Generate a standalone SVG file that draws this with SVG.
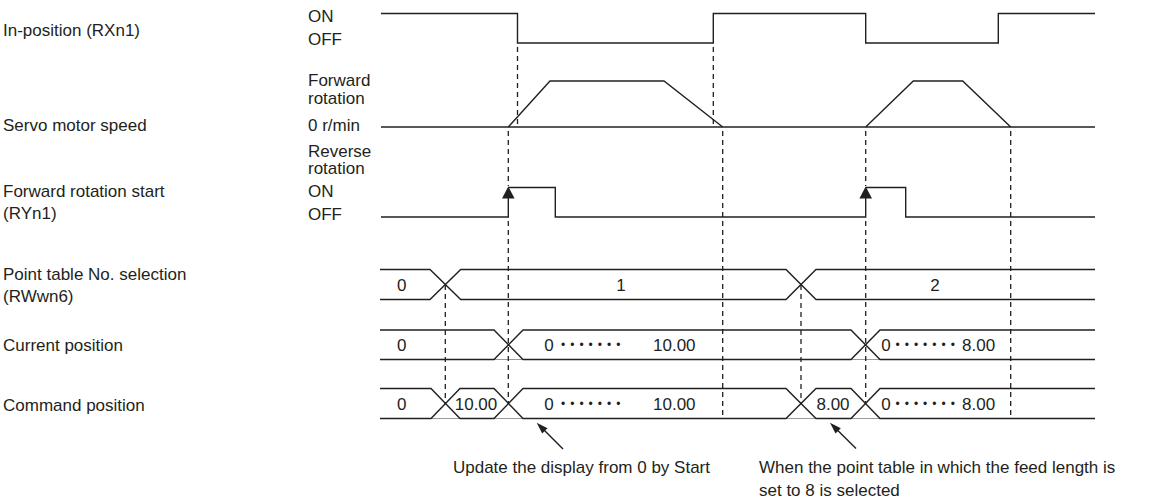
<svg xmlns="http://www.w3.org/2000/svg" width="1153" height="501" viewBox="0 0 1153 501">
<style>
text{font-family:"Liberation Sans",Arial,sans-serif;font-size:17px;fill:#231f20}
.c{text-anchor:middle}
.e{text-anchor:end}
.dots{font-size:12px;letter-spacing:5px}
.sig{fill:none;stroke:#231f20;stroke-width:1.4}
.faint{fill:none;stroke:#9a9a9a;stroke-width:1.2}
.dash{fill:none;stroke:#231f20;stroke-width:1.3;stroke-dasharray:5 4}
.ah{fill:#231f20}
</style>
<rect width="1153" height="501" fill="#fff"/>
<g id="labels">
<text x="3" y="36">In-position (RXn1)</text>
<text x="3" y="131">Servo motor speed</text>
<text x="3" y="197">Forward rotation start</text>
<text x="3" y="219">(RYn1)</text>
<text x="3" y="280">Point table No. selection</text>
<text x="3" y="302">(RWwn6)</text>
<text x="3" y="351">Current position</text>
<text x="3" y="411">Command position</text>
<text x="308" y="22">ON</text>
<text x="308" y="45">OFF</text>
<text x="308" y="86">Forward</text>
<text x="308" y="104">rotation</text>
<text x="308" y="131">0 r/min</text>
<text x="308" y="157">Reverse</text>
<text x="308" y="174">rotation</text>
<text x="308" y="197">ON</text>
<text x="308" y="220">OFF</text>
</g>
<g id="in-position">
<path class="sig" d="M381,13.5 H517.5 V43 H713.3 V13.5 H865.7 V43 H998.3 V13.5 H1095"/>
</g>
<g id="servo-speed">
<path class="sig" d="M381,127 H1095"/>
<path class="sig" d="M508.3,127 L550,81 H664 L722.7,127"/>
<path class="sig" d="M865.7,127 L913.3,81 H962.7 L1010.7,127"/>
</g>
<g id="start-signal">
<path class="sig" d="M381,217 H508.3 V192 M508.3,187.5 H555.3 V217 H865.7 V192 M865.7,187.5 H905.7 V217 H1095"/>
<path class="ah" d="M508.3,186.5 L502,198.5 H514.6 Z"/>
<path class="ah" d="M865.7,186.5 L859.4,198.5 H872 Z"/>
</g>
<g id="point-table">
<path class="sig" d="M380,269.5 H430 L460.7,299.5 H786 L816,269.5 H1095"/>
<path class="sig" d="M380,299.5 H430 L460.7,269.5 H786 L816,299.5 H1095"/>
<text class="c" x="401.7" y="290.5">0</text>
<text class="c" x="621" y="290.5">1</text>
<text class="c" x="935" y="290.5">2</text>
</g>
<g id="current-position">
<path class="faint" d="M494,359.5 H523 M851,359.5 H880"/>
<path class="sig" d="M380,330 H494 L523,359.5 H851 L880,330 H1095"/>
<path class="sig" d="M380,359.5 H494 L523,330 H851 L880,359.5 H1095"/>
<text class="c" x="401.7" y="351">0</text>
<text class="c" x="549" y="351">0</text>
<text class="dots" x="561" y="348.5">•••••••</text>
<text x="653" y="351">10.00</text>
<text class="c" x="886" y="351">0</text>
<text class="dots" x="895.5" y="348.5">•••••••</text>
<text x="962" y="351">8.00</text>
</g>
<g id="command-position">
<path class="faint" d="M431,418.5 H460 M494,418.5 H523 M786,418.5 H816 M851,418.5 H880"/>
<path class="sig" d="M380,388.5 H431 L460,418.5 H494 L523,388.5 H786 L816,418.5 H851 L880,388.5 H1095"/>
<path class="sig" d="M380,418.5 H431 L460,388.5 H494 L523,418.5 H786 L816,388.5 H851 L880,418.5 H1095"/>
<text class="c" x="401.7" y="410">0</text>
<text class="c" x="476" y="410">10.00</text>
<text class="c" x="549" y="410">0</text>
<text class="dots" x="561" y="407.5">•••••••</text>
<text x="653" y="410">10.00</text>
<text class="c" x="833" y="410">8.00</text>
<text class="c" x="886" y="410">0</text>
<text class="dots" x="895.5" y="407.5">•••••••</text>
<text x="962" y="410">8.00</text>
</g>
<g id="connectors">
<path class="dash" d="M517.5,47 V127"/>
<path class="dash" d="M713.3,47 V127"/>
<path class="dash" d="M445.3,285 V404"/>
<path class="dash" d="M508.3,131 V186"/>
<path class="dash" d="M508.3,221 V404"/>
<path class="dash" d="M722.7,131 V418.5"/>
<path class="dash" d="M801,285 V404"/>
<path class="dash" d="M865.7,131 V186"/>
<path class="dash" d="M865.7,221 V404"/>
<path class="dash" d="M1010.7,131 V418.5"/>
<path class="sig" d="M563,449 L540,426"/>
<path class="ah" d="M536.7,422.7 L547.5,428.2 L542.2,433.5 Z"/>
<path class="sig" d="M856,448.5 L833.3,426"/>
<path class="ah" d="M830,422.7 L840.8,428.2 L835.5,433.5 Z"/>
</g>
<g id="notes">
<text class="e" x="710" y="473">Update the display from 0 by Start</text>
<text x="759" y="473">When the point table in which the feed length is</text>
<text x="759" y="496">set to 8 is selected</text>
</g>
</svg>
